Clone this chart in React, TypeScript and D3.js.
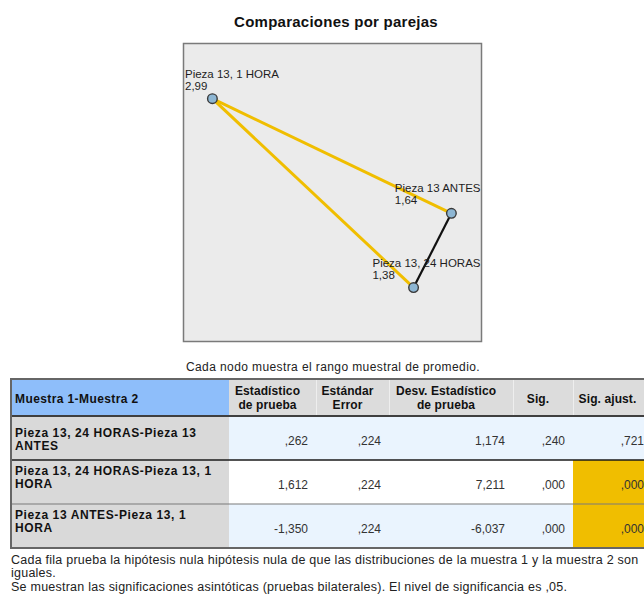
import React, { useEffect, useRef } from "react";
import * as d3 from "d3";

const W = 644;
const H = 597;

// Nodes of the pairwise-comparison network (mean sample rank)
const nodeNames = ["Pieza 13, 1 HORA", "Pieza 13 ANTES", "Pieza 13, 24 HORAS"];
const nodeRanks = [2.99, 1.64, 1.38];
// Node placement inside the network frame, in unit coordinates
const nodeLayoutX = [0.097, 0.899, 0.772];
const nodeLayoutY = [0.185, 0.57, 0.819];

// Pairwise test results
const pairSample1 = ["Pieza 13, 24 HORAS", "Pieza 13, 24 HORAS", "Pieza 13 ANTES"];
const pairSample2 = ["Pieza 13 ANTES", "Pieza 13, 1 HORA", "Pieza 13, 1 HORA"];
const testStat = [0.262, 1.612, -1.35];
const stdError = [0.224, 0.224, 0.224];
const stdTestStat = [1.174, 7.211, -6.037];
const sigValues = [0.24, 0.0, 0.0];
const adjSigValues = [0.721, 0.0, 0.0];

const headerLabels = [
  "Muestra 1-Muestra 2",
  "Estadístico\nde prueba",
  "Estándar\nError",
  "Desv. Estadístico\nde prueba",
  "Sig.",
  "Sig. ajust.",
];

const titleText = "Comparaciones por parejas";
const captionText = "Cada nodo muestra el rango muestral de promedio.";
const footnoteLines = [
  "Cada fila prueba la hipótesis nula hipótesis nula de que las distribuciones de la muestra 1 y la muestra 2 son",
  "iguales.",
  "Se muestran las significaciones asintóticas (pruebas bilaterales). El nivel de significancia es ,05.",
];

const ALPHA = 0.05;
const FONT = "'Liberation Sans', Arial, sans-serif";
const YELLOW = "#F0BE00";

// Spanish number style: decimal comma, no leading zero, plain hyphen for minus
const fmtSpanish = (digits: number) => (v: number) =>
  d3
    .format(`.${digits}f`)(v)
    .replace("\u2212", "-")
    .replace(".", ",")
    .replace(/^(-?)0,/, "$1,");
const fmt3 = fmtSpanish(3);
const fmt2 = (v: number) => d3.format(".2f")(v).replace(".", ",");

export default function App() {
  const ref = useRef<SVGSVGElement | null>(null);

  useEffect(() => {
    const svg = d3.select(ref.current);
    svg.selectAll("*").remove();

    // ---- Title
    svg
      .append("text")
      .attr("x", 336)
      .attr("y", 27)
      .attr("text-anchor", "middle")
      .attr("font-family", FONT)
      .attr("font-weight", "bold")
      .attr("font-size", 15)
      .attr("letter-spacing", 0.25)
      .attr("fill", "#111")
      .text(titleText);

    // ---- Network frame
    const frame = { x0: 183.5, y0: 43.5, x1: 481.5, y1: 341.5 };
    const x = d3.scaleLinear().domain([0, 1]).range([frame.x0, frame.x1]);
    const y = d3.scaleLinear().domain([0, 1]).range([frame.y0, frame.y1]);

    svg
      .append("rect")
      .attr("x", frame.x0)
      .attr("y", frame.y0)
      .attr("width", frame.x1 - frame.x0)
      .attr("height", frame.y1 - frame.y0)
      .attr("fill", "#EBEBEB")
      .attr("stroke", "#7A7A7A")
      .attr("stroke-width", 1.5);

    const nodes = nodeNames.map((name, i) => ({
      name,
      rank: nodeRanks[i],
      px: x(nodeLayoutX[i]),
      py: y(nodeLayoutY[i]),
    }));
    const byName = new Map(nodes.map((n) => [n.name, n]));
    const edges = pairSample1.map((s1, i) => ({
      a: byName.get(s1)!,
      b: byName.get(pairSample2[i])!,
      significant: adjSigValues[i] < ALPHA,
    }));

    // edges: significant pairs in yellow, the rest in black
    svg
      .append("g")
      .selectAll("line")
      .data(edges)
      .join("line")
      .attr("x1", (d) => d.a.px)
      .attr("y1", (d) => d.a.py)
      .attr("x2", (d) => d.b.px)
      .attr("y2", (d) => d.b.py)
      .attr("stroke", (d) => (d.significant ? YELLOW : "#111"))
      .attr("stroke-width", (d) => (d.significant ? 3 : 2.2));

    // node labels: name + mean rank, kept inside the frame
    nodes.forEach((n) => {
      const t = svg
        .append("text")
        .attr("font-family", FONT)
        .attr("font-size", 11.5)
        .attr("fill", "#1E1E1E")
        .text(n.name);
      const w = (t.node() as SVGTextElement).getComputedTextLength();
      let lx = n.px + 15 - w / 2;
      lx = Math.max(frame.x0 + 1.5, Math.min(lx, frame.x1 - 1 - w));
      t.attr("x", lx).attr("y", n.py - 21);
      svg
        .append("text")
        .attr("x", lx)
        .attr("y", n.py - 9)
        .attr("font-family", FONT)
        .attr("font-size", 11.5)
        .attr("fill", "#1E1E1E")
        .text(fmt2(n.rank));
    });

    svg
      .selectAll("circle.node")
      .data(nodes)
      .join("circle")
      .attr("class", "node")
      .attr("cx", (d) => d.px)
      .attr("cy", (d) => d.py)
      .attr("r", 4.8)
      .attr("fill", "#8DB6D3")
      .attr("stroke", "#3A3A3A")
      .attr("stroke-width", 1.4);

    // ---- Caption
    svg
      .append("text")
      .attr("x", 333)
      .attr("y", 371)
      .attr("text-anchor", "middle")
      .attr("font-family", FONT)
      .attr("font-size", 12)
      .attr("letter-spacing", 0.4)
      .attr("fill", "#222")
      .text(captionText);

    // ---- Table
    const colEdges = [11, 229, 316, 389, 513, 573, 652];
    const headTop = 379;
    const headBottom = 416;
    const rowH = 44;
    const nRows = pairSample1.length;
    const rowTop = (i: number) => headBottom + i * rowH;
    const tableBottom = rowTop(nRows);

    const tbl = svg.append("g");

    // header cells
    headerLabels.forEach((lab, c) => {
      tbl
        .append("rect")
        .attr("x", colEdges[c])
        .attr("y", headTop)
        .attr("width", colEdges[c + 1] - colEdges[c])
        .attr("height", headBottom - headTop)
        .attr("fill", c === 0 ? "#8EBEFA" : "#DCDCDC");
    });
    // faint separators between header cells
    colEdges.slice(2, -1).forEach((cx) => {
      tbl
        .append("line")
        .attr("x1", cx + 0.5)
        .attr("x2", cx + 0.5)
        .attr("y1", headTop)
        .attr("y2", headBottom)
        .attr("stroke", "#EEEEEE")
        .attr("stroke-width", 1);
    });

    // body cells
    const rowValues = pairSample1.map((_, i) => [
      fmt3(testStat[i]),
      fmt3(stdError[i]),
      fmt3(stdTestStat[i]),
      fmt3(sigValues[i]),
      fmt3(adjSigValues[i]),
    ]);
    pairSample1.forEach((_, r) => {
      for (let c = 0; c < 6; c++) {
        let fill = r % 2 === 0 ? "#EAF4FE" : "#FFFFFF";
        if (c === 0) fill = "#D9D9D9";
        if (c === 5 && adjSigValues[r] < ALPHA) fill = YELLOW;
        tbl
          .append("rect")
          .attr("x", colEdges[c])
          .attr("y", rowTop(r))
          .attr("width", colEdges[c + 1] - colEdges[c])
          .attr("height", rowH)
          .attr("fill", fill);
      }
    });

    // header text
    headerLabels.forEach((lab, c) => {
      const lines = lab.split("\n");
      const t = tbl
        .append("text")
        .attr("font-family", FONT)
        .attr("font-weight", "bold")
        .attr("font-size", 12)
        .attr("letter-spacing", c === 0 ? 0.4 : 0.1)
        .attr("fill", "#111")
        .attr("text-anchor", c === 0 ? "start" : "middle");
      const tx = c === 0 ? colEdges[0] + 4 : (colEdges[c] + colEdges[c + 1]) / 2 - 5;
      const baseY = lines.length === 1 ? 403 : 395;
      lines.forEach((ln, k) => {
        t.append("tspan").attr("x", tx).attr("y", baseY + k * 13.5).text(ln);
      });
    });

    // row label text, wrapped to the first column
    const maxLabelW = 205;
    pairSample1.forEach((s1, r) => {
      const label = `${s1}-${pairSample2[r]}`;
      const words = label.split(" ");
      const t = tbl
        .append("text")
        .attr("font-family", FONT)
        .attr("font-weight", "bold")
        .attr("font-size", 12)
        .attr("letter-spacing", 0.6)
        .attr("fill", "#111");
      const lines: string[] = [];
      let cur = "";
      words.forEach((w) => {
        const trial = cur ? `${cur} ${w}` : w;
        t.text(trial);
        if ((t.node() as SVGTextElement).getComputedTextLength() > maxLabelW && cur) {
          lines.push(cur);
          cur = w;
        } else {
          cur = trial;
        }
      });
      lines.push(cur);
      t.text(null);
      const first = r === 0 ? rowTop(r) + 21 : rowTop(r) + 15;
      lines.forEach((ln, k) => {
        t.append("tspan")
          .attr("x", colEdges[0] + 4)
          .attr("y", first + k * 13)
          .text(ln);
      });
    });

    // values, right-aligned
    rowValues.forEach((vals, r) => {
      vals.forEach((v, k) => {
        const c = k + 1;
        tbl
          .append("text")
          .attr("x", colEdges[c + 1] - 8)
          .attr("y", rowTop(r) + 29)
          .attr("text-anchor", "end")
          .attr("font-family", FONT)
          .attr("font-size", 12)
          .attr("fill", "#333")
          .text(v);
      });
    });

    // rules
    tbl
      .append("line")
      .attr("x1", colEdges[0])
      .attr("x2", W)
      .attr("y1", headBottom)
      .attr("y2", headBottom)
      .attr("stroke", "#3F3F3F")
      .attr("stroke-width", 2);
    for (let r = 1; r < nRows; r++) {
      tbl
        .append("line")
        .attr("x1", colEdges[0])
        .attr("x2", W)
        .attr("y1", rowTop(r))
        .attr("y2", rowTop(r))
        .attr("stroke", r === 1 ? "#1A1A1A" : "#7A7A7A")
        .attr("stroke-width", r === 1 ? 1.5 : 1.2);
    }
    tbl
      .append("path")
      .attr("d", `M${W + 2},${headTop} H${colEdges[0]} V${tableBottom} H${W + 2}`)
      .attr("fill", "none")
      .attr("stroke", "#666")
      .attr("stroke-width", 2);

    // ---- Footnotes
    const footY = [564, 577, 591];
    footnoteLines.forEach((ln, i) => {
      svg
        .append("text")
        .attr("x", 11)
        .attr("y", footY[i])
        .attr("font-family", FONT)
        .attr("font-size", 12.5)
        .attr("letter-spacing", 0.24)
        .attr("fill", "#222")
        .text(ln);
    });
  }, []);

  return (
    <svg
      ref={ref}
      width={W}
      height={H}
      style={{ position: "absolute", left: 0, top: 0, display: "block", background: "#fff" }}
    />
  );
}
